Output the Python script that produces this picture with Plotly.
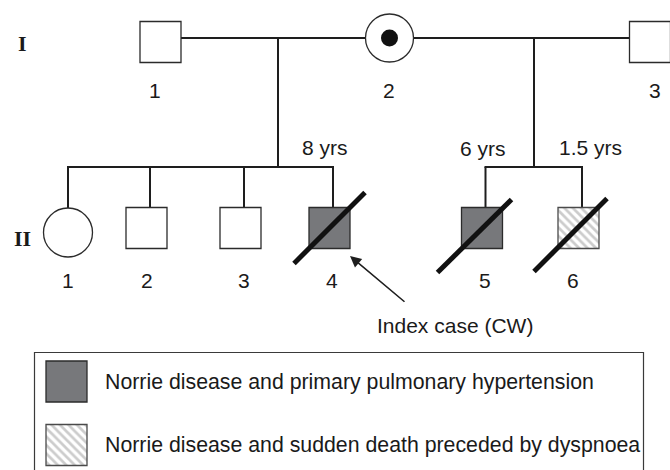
import plotly.graph_objects as go

# ---------------- data ----------------
generations = ["I", "II"]
ind_gen = ["I", "I", "I", "II", "II", "II", "II", "II", "II"]
ind_num = ["1", "2", "3", "1", "2", "3", "4", "5", "6"]
ind_sex = ["M", "F", "M", "F", "M", "M", "M", "M", "M"]
ind_status = ["unaffected", "carrier", "unaffected", "unaffected", "unaffected",
              "unaffected", "pph", "pph", "sudden"]
ind_deceased = [False, False, False, False, False, False, True, True, True]
ind_age = ["", "", "", "", "", "", "8 yrs", "6 yrs", "1.5 yrs"]
index_case_label = "Index case (CW)"
legend_status = ["pph", "sudden"]
legend_labels = ["Norrie disease and primary pulmonary hypertension",
                 "Norrie disease and sudden death preceded by dyspnoea"]

# ---------------- layout (pixel geometry) ----------------
W, H = 670, 470
gen_y = {"I": 42, "II": 228}
gen_circle_y = {"I": 38, "II": 232.5}
gen_label_x = 22
gen_label_y = {"I": 43, "II": 238}
ind_x = [160.5, 389.5, 650, 68, 146.5, 240.5, 329.5, 482, 578.5]
num_x = [155, 389, 655, 68, 147, 244, 332, 485, 573]
num_y = {"I": 90, "II": 280}
age_pos = {6: (325, 147), 7: (483, 148), 8: (590, 147)}
slash_off = {6: (-15, 15, 15, -15), 7: (-24, 24, 9, -8), 8: (-24, 23, 8, -9)}
half = 20.5
radius = {"I": 24, "II": 24.5}
marriage_y = 38
sib_y = 167
drop_off = 3.5
sibships = [(0, 1, [3, 4, 5, 6], 278), (1, 2, [7, 8], 534)]

fill_map = {"unaffected": "white", "carrier": "white", "pph": "#77787b"}
outline = "#2b2b2b"
line_col = "#1e1e1e"
txt_col = "#1a1a1a"
FONT = "Liberation Sans, Arial, sans-serif"
SERIF = "Liberation Serif, Times New Roman, serif"
FS = 21

fig = go.Figure()
shapes = []
annotations = []

# pedigree lines (below)
i1, i3 = 0, 2
shapes.append(dict(type="line", x0=ind_x[i1] + half, x1=ind_x[i3] - half,
                   y0=marriage_y, y1=marriage_y,
                   line=dict(color=line_col, width=2), layer="below"))
for a, b, kids, px in sibships:
    shapes.append(dict(type="line", x0=px, x1=px, y0=marriage_y, y1=sib_y,
                       line=dict(color=line_col, width=2), layer="below"))
    kx = [ind_x[k] + (drop_off if ind_sex[k] == "M" else 0) for k in kids]
    shapes.append(dict(type="line", x0=min(kx) - 1, x1=max(kx) + 1, y0=sib_y, y1=sib_y,
                       line=dict(color=line_col, width=2), layer="below"))
    for k, x in zip(kids, kx):
        top = gen_y[ind_gen[k]] - half if ind_sex[k] == "M" else gen_circle_y[ind_gen[k]] - radius[ind_gen[k]]
        shapes.append(dict(type="line", x0=x, x1=x, y0=sib_y, y1=top,
                           line=dict(color=line_col, width=2), layer="below"))


def hatch_square(cx, cy, h):
    fig.add_trace(go.Scatter(
        x=[cx - h, cx + h, cx + h, cx - h, cx - h],
        y=[cy - h, cy - h, cy + h, cy + h, cy - h],
        mode="lines", fill="toself", line=dict(width=0, color="rgba(0,0,0,0)"),
        fillcolor="white",
        fillpattern=dict(shape="\\", fgcolor="#999999", bgcolor="white",
                         size=6, solidity=0.45),
        hoverinfo="skip", showlegend=False))
    shapes.append(dict(type="rect", x0=cx - h, x1=cx + h, y0=cy - h, y1=cy + h,
                       line=dict(color="#4a4a4a", width=1.3), fillcolor="rgba(0,0,0,0)",
                       layer="above"))


# individuals
for i in range(len(ind_num)):
    g = ind_gen[i]
    x = ind_x[i]
    st = ind_status[i]
    if ind_sex[i] == "F":
        cy = gen_circle_y[g]
        r = radius[g]
        shapes.append(dict(type="circle", x0=x - r, x1=x + r, y0=cy - r, y1=cy + r,
                           line=dict(color=outline, width=1.3), fillcolor="white",
                           layer="above"))
        if st == "carrier":
            shapes.append(dict(type="circle", x0=x - 8.5, x1=x + 8.5, y0=cy - 8.5, y1=cy + 8.5,
                               line=dict(color="#111", width=0), fillcolor="#111",
                               layer="above"))
    else:
        cy = gen_y[g]
        if st == "sudden":
            hatch_square(x, cy, half)
        else:
            shapes.append(dict(type="rect", x0=x - half, x1=x + half,
                               y0=cy - half, y1=cy + half,
                               line=dict(color=outline, width=1.3),
                               fillcolor=fill_map[st], layer="above"))
    annotations.append(dict(x=num_x[i], y=num_y[g], text=ind_num[i], showarrow=False,
                            font=dict(family=FONT, size=FS, color=txt_col),
                            xanchor="center", yanchor="middle"))

# deceased slashes
for i in range(len(ind_num)):
    if ind_deceased[i]:
        x, cy = ind_x[i], gen_y[ind_gen[i]]
        l, b, r, t = slash_off[i]
        shapes.append(dict(type="line", x0=x - half + l, y0=cy + half + b,
                           x1=x + half + r, y1=cy - half + t,
                           line=dict(color="#111", width=5), layer="above"))

# ages
for i, lab in enumerate(ind_age):
    if lab:
        ax_, ay_ = age_pos[i]
        annotations.append(dict(x=ax_, y=ay_, text=lab, showarrow=False,
                                font=dict(family=FONT, size=FS, color=txt_col),
                                xanchor="center", yanchor="middle"))

# generation labels
for g in generations:
    annotations.append(dict(x=gen_label_x, y=gen_label_y[g], text="<b>%s</b>" % g,
                            showarrow=False,
                            font=dict(family=SERIF, size=22, color=txt_col),
                            xanchor="center", yanchor="middle"))

# index case arrow
annotations.append(dict(x=350, y=256, ax=406, ay=303, axref="x", ayref="y",
                        xref="x", yref="y", text="", showarrow=True,
                        arrowhead=2, arrowsize=1.4, arrowwidth=1.6, arrowcolor="#1e1e1e"))
annotations.append(dict(x=455, y=325, text=index_case_label, showarrow=False,
                        font=dict(family=FONT, size=FS, color=txt_col),
                        xanchor="center", yanchor="middle"))

# legend box
shapes.append(dict(type="rect", x0=34.5, x1=643.5, y0=352.5, y1=480,
                   line=dict(color="#3a3a3a", width=1.2), fillcolor="rgba(0,0,0,0)",
                   layer="below"))
leg_y = [381.5, 445]
for st, lab, yy in zip(legend_status, legend_labels, leg_y):
    if st == "sudden":
        hatch_square(66.5, yy, half)
    else:
        shapes.append(dict(type="rect", x0=66.5 - half, x1=66.5 + half,
                           y0=yy - half, y1=yy + half,
                           line=dict(color=outline, width=1.3),
                           fillcolor=fill_map[st], layer="above"))
    annotations.append(dict(x=103, y=yy, text=lab, showarrow=False,
                            font=dict(family=FONT, size=21.3, color=txt_col),
                            xanchor="left", yanchor="middle"))

for a in annotations:
    a.setdefault("xref", "x")
    a.setdefault("yref", "y")

fig.update_layout(
    width=W, height=H, margin=dict(l=0, r=0, t=0, b=0),
    paper_bgcolor="white", plot_bgcolor="white",
    xaxis=dict(range=[0, W], visible=False, fixedrange=True),
    yaxis=dict(range=[H, 0], visible=False, fixedrange=True),
    shapes=shapes, annotations=annotations, showlegend=False,
)
fig.write_html("out.html", config={"displayModeBar": False},
               post_script="document.body.style.margin='0';document.body.style.overflow='hidden';")
